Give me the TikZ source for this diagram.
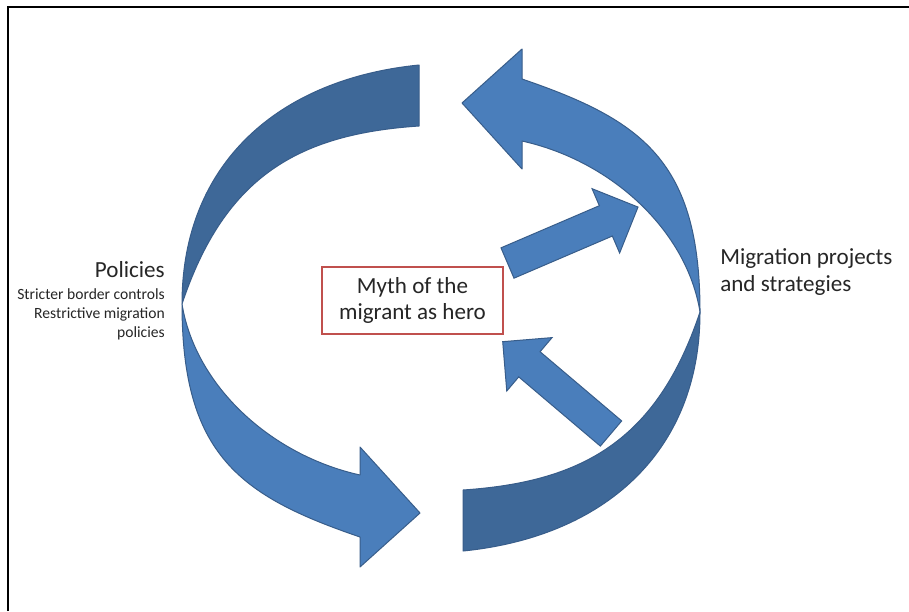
\documentclass[tikz,border=0pt]{standalone}
\usepackage{fontspec}
\setmainfont{Carlito}
\definecolor{lightblue}{HTML}{4A7EBB}
\definecolor{darkblue}{HTML}{3E6898}
\definecolor{edgeblue}{HTML}{385D8A}
\definecolor{boxred}{HTML}{C0504D}
\definecolor{txt}{HTML}{262626}
\begin{document}
\begin{tikzpicture}[x=0.75pt,y=-0.75pt,
  frontpart/.style={fill=lightblue, draw=edgeblue, line width=0.75pt, line join=round},
  backpart/.style={fill=darkblue, draw=edgeblue, line width=0.75pt, line join=round},
  blockarrow/.style={fill=lightblue, draw=edgeblue, line width=0.75pt, line join=miter},
  bigtext/.style={font=\fontsize{17.3}{20.25}\selectfont, text=txt, inner sep=0pt},
  smalltext/.style={font=\fontsize{11.7}{13.9}\selectfont, text=txt, inner sep=0pt},
  pics/blockarr/.style={code={
    \path[blockarrow] (0,-16.5) -- (107,-16.5) -- (107,-35) -- (142,0) -- (107,35) -- (107,16.5) -- (0,16.5) -- cycle;}},
  pics/halfcycle/.style={code={
    \path[backpart] (419,65) .. controls (279,79) and (182,163) .. (182,304)
      .. controls (225,175) and (300,134) .. (419,126) -- cycle;
    \path[frontpart] (182,304) .. controls (182,455) and (240,496) .. (360,537)
      -- (360,567) -- (420,513) -- (360,447) -- (360,475)
      .. controls (270,455) and (195,385) .. (182,304) -- cycle;}}
]
\useasboundingbox (0,0) rectangle (909,611);
\fill[white] (0,0) rectangle (909,611);
\draw[line width=1.5pt] (8,611) -- (8,7) -- (909,7);

% big circular arrows
\pic (leftcycle) at (0,0) {halfcycle};
\begin{scope}[rotate around={180:(441,308)}]
  \pic[transform shape] (rightcycle) at (0,0) {halfcycle};
\end{scope}

% small straight arrows
\pic (uparrow) [rotate=23.2] at (507.5,263) {blockarr};
\pic (backarrow) [rotate=139.7] at (611,433.5) {blockarr};

% central box
\node[draw=boxred, line width=1.5pt, minimum width=135.75pt, minimum height=50.25pt,
      align=center, font=\fontsize{17.3}{19.5}\selectfont, text=txt, inner sep=0pt] (myth) at (412.5,300.5)
      {Myth of the\\migrant as hero};

% labels
\node[bigtext, anchor=base east] (pol) at (165,277) {Policies};
\node[smalltext, anchor=base east, align=right] (polsub) at (165,337)
      {Stricter border controls\\Restrictive migration\\policies};
\node[bigtext, anchor=base west, align=left] (mig) at (720,291)
      {Migration projects\\and strategies};
\end{tikzpicture}
\end{document}
